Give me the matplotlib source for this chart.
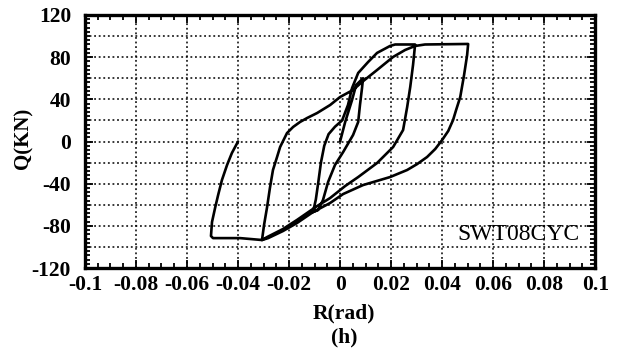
import numpy as np
import matplotlib
matplotlib.use("Agg")
import matplotlib.pyplot as plt
from matplotlib.ticker import MultipleLocator

plt.rcParams['font.family'] = ['Liberation Serif', 'DejaVu Serif']
plt.rcParams['axes.unicode_minus'] = False

# ─── hysteresis path ───
# 1. initial loading to +0.01
r1 = [0.0, 0.002, 0.0047, 0.0063, 0.009]
q1 = [0.0, 18.5, 39.4, 53.6, 60.0]
# 2. unloading to -0.01
r2 = [0.0086, 0.0078, 0.0071, 0.0051, 0.0012, -0.002, -0.0047, -0.0067, -0.0086, -0.0106]
q2 = [50.7, 34.6, 18.5, 6.2, -10.0, -22.3, -38.4, -55.5, -65.0, -66.9]
# 3. reloading to +0.03
r3 = [-0.0095, -0.0085, -0.0075, -0.0062, -0.0045, -0.002, 0.0008, 0.0031, 0.0047, 0.0071,
      0.011, 0.0145, 0.0196, 0.0216, 0.0294]
q3 = [-55.0, -38.0, -20.0, -4.0, 7.0, 14.0, 20.0, 34.6, 50.7, 65.0,
      75.4, 84.0, 90.6, 92.0, 92.0]
# 4. unloading to -0.03
r4 = [0.029, 0.0286, 0.0275, 0.0263, 0.0247, 0.0224, 0.0208, 0.0145, 0.0071, 0.002,
      -0.0039, -0.009, -0.0169, -0.0224, -0.0286, -0.0306]
q4 = [82.0, 72.6, 51.7, 32.7, 10.9, 1.4, -5.2, -20.4, -33.7, -42.2,
      -53.6, -61.2, -74.4, -83.0, -90.6, -93.4]
# 5. reloading to +0.05
r5 = [-0.0298, -0.0286, -0.0275, -0.0263, -0.0247, -0.0235, -0.0208, -0.0184, -0.0157,
      -0.0129, -0.009, -0.0039, 0.0, 0.0051, 0.0086, 0.0145, 0.0208, 0.0255, 0.0294,
      0.0333, 0.0502]
q5 = [-79.2, -62.1, -44.1, -27.0, -14.7, -5.2, 8.0, 13.8, 18.5,
      22.3, 27.0, 34.6, 42.2, 48.9, 56.4, 67.8, 80.2, 86.8, 90.6,
      92.0, 92.5]
# 6. unloading to -0.05
r6 = [0.0498, 0.0486, 0.0471, 0.0455, 0.0443, 0.0424, 0.04, 0.0373, 0.0341, 0.0302,
      0.0263, 0.0196, 0.009, 0.0012, -0.0039, -0.0106, -0.0169, -0.0224, -0.0282,
      -0.0306, -0.0392, -0.0498, -0.0506]
q6 = [82.0, 63.0, 42.2, 30.0, 20.4, 10.0, 1.4, -7.1, -14.7, -21.4,
      -27.0, -33.7, -41.3, -49.8, -58.3, -66.9, -77.3, -84.9, -91.6,
      -93.4, -91.6, -91.6, -89.6]
# 7. reloading until Q = 0
r7 = [-0.0502, -0.049, -0.0478, -0.0463, -0.0443, -0.0424, -0.04]
q7 = [-76.4, -63.1, -50.8, -36.5, -22.3, -10.9, 0.0]

R = np.concatenate([r1, r2, r3, r4, r5, r6, r7])
Q = np.concatenate([q1, q2, q3, q4, q5, q6, q7])

x_ticks = [-0.1, -0.08, -0.06, -0.04, -0.02, 0, 0.02, 0.04, 0.06, 0.08, 0.1]
x_labels = ['-0.1', '-0.08', '-0.06', '-0.04', '-0.02', '0', '0.02', '0.04', '0.06', '0.08', '0.1']
y_ticks = [-120, -80, -40, 0, 40, 80, 120]

fig = plt.figure(figsize=(6.2, 3.56), dpi=100)
ax = fig.add_axes([0.137, 0.247, 0.823, 0.711])

ax.plot(R, Q, color='black', lw=1.9, solid_joinstyle='round', solid_capstyle='round')

ax.set_xlim(-0.1, 0.1)
ax.set_ylim(-120, 120)
ax.set_xticks(x_ticks)
ax.set_xticklabels(x_labels)
ax.set_yticks(y_ticks)
ax.xaxis.set_minor_locator(MultipleLocator(0.005))
ax.yaxis.set_minor_locator(MultipleLocator(4))

# dotted grid every 0.02 and every 20
for gx in np.arange(-0.08, 0.1, 0.02):
    ax.axvline(gx, color='black', lw=1.1, ls=(0, (1.2, 1.8)), zorder=0)
for gy in np.arange(-100, 120, 20):
    ax.axhline(gy, color='black', lw=1.1, ls=(0, (1.2, 1.8)), zorder=0)

ax.tick_params(which='both', direction='in', top=True, right=True, width=1.3)
ax.tick_params(which='major', length=6, labelsize=15.5)
ax.tick_params(axis='x', which='major', pad=5)
ax.tick_params(axis='y', which='major', pad=10)
ax.tick_params(which='minor', length=3.5)
for lab in ax.get_xticklabels() + ax.get_yticklabels():
    lab.set_fontweight('bold')
for sp in ax.spines.values():
    sp.set_linewidth(2.4)

ax.text(0.094, -88, 'SWT08CYC', ha='right', va='center', fontsize=17)

fig.text(0.038, 0.61, 'Q(KN)', rotation=90, ha='center', va='center',
         fontsize=15, fontweight='bold')
fig.text(0.555, 0.12, 'R(rad)', ha='center', va='center', fontsize=15.5, fontweight='bold')
fig.text(0.555, 0.052, '(h)', ha='center', va='center', fontsize=15.5, fontweight='bold')

fig.savefig('out.png', dpi=100)
